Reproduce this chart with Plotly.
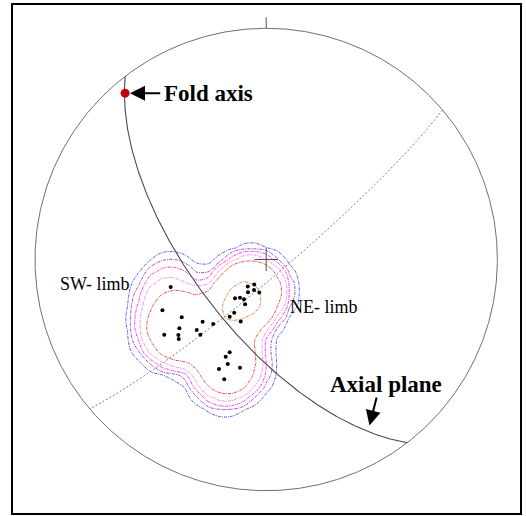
import numpy as np
import plotly.graph_objects as go

# Poles to bedding, lower hemisphere (trend, plunge in degrees)
pole_trend = [253.9, 243.9, 235.6, 233.6, 231.6, 229.3, 227.7, 224.6, 221.2, 225.6,
              219.4, 212.5, 211.0, 218.8, 214.4, 209.2, 205.3, 214.2, 209.0, 205.6,
              201.8, 191.9, 202.3, 202.6, 201.5, 200.2, 203.3, 193.6, 199.3]
pole_plunge = [54.6, 48.6, 53.5, 44.4, 50.4, 48.5, 47.6, 54.8, 54.4, 58.4,
               60.4, 66.0, 68.1, 72.5, 73.7, 74.0, 72.6, 78.5, 76.8, 80.3,
               78.5, 78.2, 66.3, 52.4, 54.5, 50.2, 47.2, 50.2, 44.3]

# Fold axis (trend, plunge) and axial plane (dip direction, dip)
fold_axis = (319.7, 6.3)
axial_plane = (232.4, 65.0)

# Pole counts per counting circle at which contours are drawn, and their colours
contour_levels = [0.2, 0.45, 0.8, 1.3, 2.4, 8.2]
contour_colors = ["#5a5aff", "#a64cc6", "#ff3cff", "#ff8ae8", "#ff4646", "#e8804a"]

SERIF = "Liberation Serif"


def project(trend, plunge):
    """Equal-area (Schmidt) lower-hemisphere projection, unit primitive."""
    t = np.radians(np.asarray(trend, dtype=float))
    p = np.radians(np.asarray(plunge, dtype=float))
    r = np.sqrt(2.0) * np.sin((np.pi / 2 - p) / 2)
    return r * np.sin(t), r * np.cos(t)


def great_circle(dip_dir, dip, n=361):
    """Trace of a plane given by dip direction / dip."""
    a = np.radians(np.linspace(0, 180, n))
    st = np.radians(dip_dir - 90)
    dd = np.radians(dip_dir)
    dp = np.radians(dip)
    north = np.cos(a) * np.cos(st) + np.sin(a) * np.cos(dp) * np.cos(dd)
    east = np.cos(a) * np.sin(st) + np.sin(a) * np.cos(dp) * np.sin(dd)
    down = np.sin(a) * np.sin(dp)
    trend = np.degrees(np.arctan2(east, north))
    plunge = np.degrees(np.arcsin(np.clip(down, -1, 1)))
    return project(trend, plunge)


px_, py_ = project(pole_trend, pole_plunge)

# Counting-circle density on a square counting grid
step = 0.05
gx = np.arange(-18, 10) * step
gy = np.arange(-18, 10) * step
GX, GY = np.meshgrid(gx, gy)
rc, edge = 0.115, 0.022
density = np.zeros_like(GX)
for x0, y0 in zip(px_, py_):
    d = np.hypot(GX - x0, GY - y0)
    density += 1.0 / (1.0 + np.exp((d - rc) / edge))

fig = go.Figure()

for lev, col in zip(contour_levels, contour_colors):
    fig.add_trace(go.Contour(
        x=gx, y=gy, z=density,
        contours=dict(start=lev, end=lev, size=1, coloring="none"),
        line=dict(color=col, width=1, dash="3px,1px,1px,1px", smoothing=1),
        showscale=False, hoverinfo="skip",
    ))

# Primitive circle
th = np.linspace(0, 2 * np.pi, 721)
fig.add_trace(go.Scatter(x=np.cos(th), y=np.sin(th), mode="lines",
                         line=dict(color="#707070", width=1), hoverinfo="skip"))

# North tick
fig.add_trace(go.Scatter(x=[0, 0], y=[1.0, 1.048], mode="lines",
                         line=dict(color="#505050", width=1), hoverinfo="skip"))

# Centre cross
c = 0.05
fig.add_trace(go.Scatter(x=[-c, c, None, 0, 0], y=[0, 0, None, -c, c], mode="lines",
                         line=dict(color="#505050", width=1), hoverinfo="skip"))

# Profile plane (perpendicular to the fold axis)
prof_x, prof_y = great_circle(fold_axis[0] + 180, 90 - fold_axis[1])
fig.add_trace(go.Scatter(x=prof_x, y=prof_y, mode="lines",
                         line=dict(color="#808080", width=1, dash="2px,2px"),
                         hoverinfo="skip"))

# Axial plane
ax_x, ax_y = great_circle(*axial_plane)
fig.add_trace(go.Scatter(x=ax_x, y=ax_y, mode="lines",
                         line=dict(color="#4a4a4a", width=1.1), hoverinfo="skip"))

# Poles
fig.add_trace(go.Scatter(x=px_, y=py_, mode="markers",
                         marker=dict(color="black", size=4), hoverinfo="skip"))

# Fold axis
fx, fy = project(fold_axis[0], fold_axis[1])
fig.add_trace(go.Scatter(x=[fx], y=[fy], mode="markers",
                         marker=dict(color="#c80000", size=9), hoverinfo="skip"))

bold = dict(family=SERIF, size=23, color="black", weight="bold")
plain = dict(family=SERIF, size=18, color="black")
annotations = [
    dict(text="Fold axis", x=-0.452, y=0.718, xanchor="left", yanchor="middle",
         showarrow=False, font=bold),
    dict(text="", x=-0.5891, y=0.7189, ax=-0.452, ay=0.7189, axref="x", ayref="y",
         showarrow=True, arrowhead=2, arrowsize=1.5, arrowwidth=2,
         arrowcolor="black", standoff=0),
    dict(text="Axial plane", x=0.266, y=-0.541, xanchor="left", yanchor="middle",
         showarrow=False, font=bold),
    dict(text="", x=0.4468, y=-0.718, ax=0.4792, ay=-0.5904, axref="x", ayref="y",
         showarrow=True, arrowhead=2, arrowsize=1.5, arrowwidth=2,
         arrowcolor="black", standoff=0),
    dict(text="SW- limb", x=-0.902, y=-0.107, xanchor="left", yanchor="middle",
         showarrow=False, font=plain),
    dict(text="NE- limb", x=0.094, y=-0.205, xanchor="left", yanchor="middle",
         showarrow=False, font=plain),
]

axis_common = dict(showgrid=False, zeroline=False, showticklabels=False, ticks="",
                   showline=True, mirror=True, linecolor="black", linewidth=2)

fig.update_layout(
    width=526, height=516,
    margin=dict(l=13, r=6, t=5, b=3),
    paper_bgcolor="white", plot_bgcolor="white",
    showlegend=False,
    xaxis=dict(range=[-1.0952, 1.0978], **axis_common),
    yaxis=dict(range=[-1.0965, 1.1008], **axis_common),
    annotations=annotations,
)

fig.write_html("out.html")
